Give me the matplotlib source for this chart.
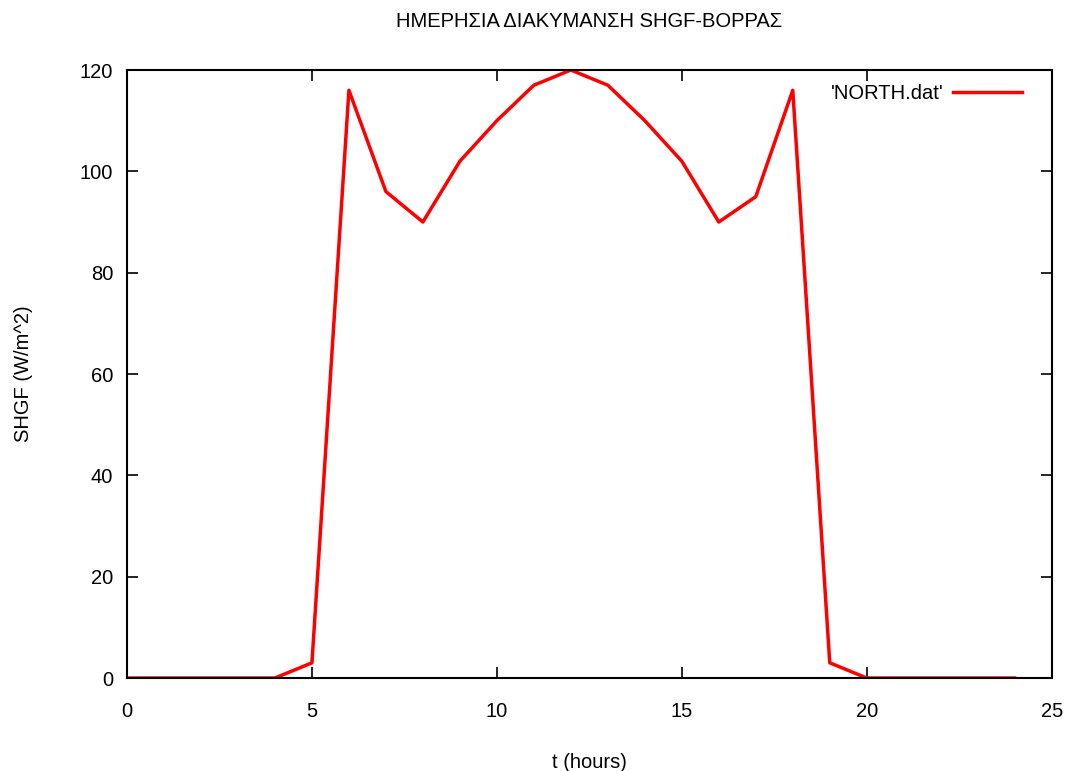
import matplotlib
matplotlib.use("Agg")
import matplotlib.pyplot as plt

plt.rcParams['font.family'] = ['Liberation Sans', 'DejaVu Sans']

# hourly SHGF values, north facade
hours = list(range(0, 25))
shgf = [0, 0, 0, 0, 0, 3, 116, 96, 90, 102, 110, 117, 120,
        117, 110, 102, 90, 95, 116, 3, 0, 0, 0, 0, 0]

xticks = [0, 5, 10, 15, 20, 25]
yticks = [0, 20, 40, 60, 80, 100, 120]

fs = 14.5

fig = plt.figure(figsize=(10.69, 7.71), dpi=100)
ax = fig.add_axes([0.1188, 0.1206, 0.865, 0.7886])

ax.plot(hours, shgf, color='#ff0000', linewidth=2.5, label="'NORTH.dat'")

ax.set_xlim(0, 25)
ax.set_ylim(0, 120)
ax.set_xticks(xticks)
ax.set_yticks(yticks)
ax.tick_params(direction='in', length=8, width=1.2, top=True, right=True,
               labelsize=fs, pad=17)
ax.tick_params(axis='y', pad=10)
for s in ax.spines.values():
    s.set_linewidth(1.5)

ax.set_xlabel('t (hours)', fontsize=fs, labelpad=23)
ax.set_ylabel('SHGF (W/m^2)', fontsize=fs, labelpad=34)
# title centred over the plot area
fig.text(589.5 / 1069, 0.984, 'ΗΜΕΡΗΣΙΑ ΔΙΑΚΥΜΑΝΣΗ SHGF-ΒΟΡΡΑΣ', fontsize=fs,
         ha='center', va='top')

ax.legend(loc='upper right', frameon=False, markerfirst=False, fontsize=fs,
          handlelength=3.4, handletextpad=0.5, borderpad=0, borderaxespad=0,
          bbox_to_anchor=(1 - 30 / 925, 1 - 14 / 608))

fig.savefig('out.png', dpi=100)
